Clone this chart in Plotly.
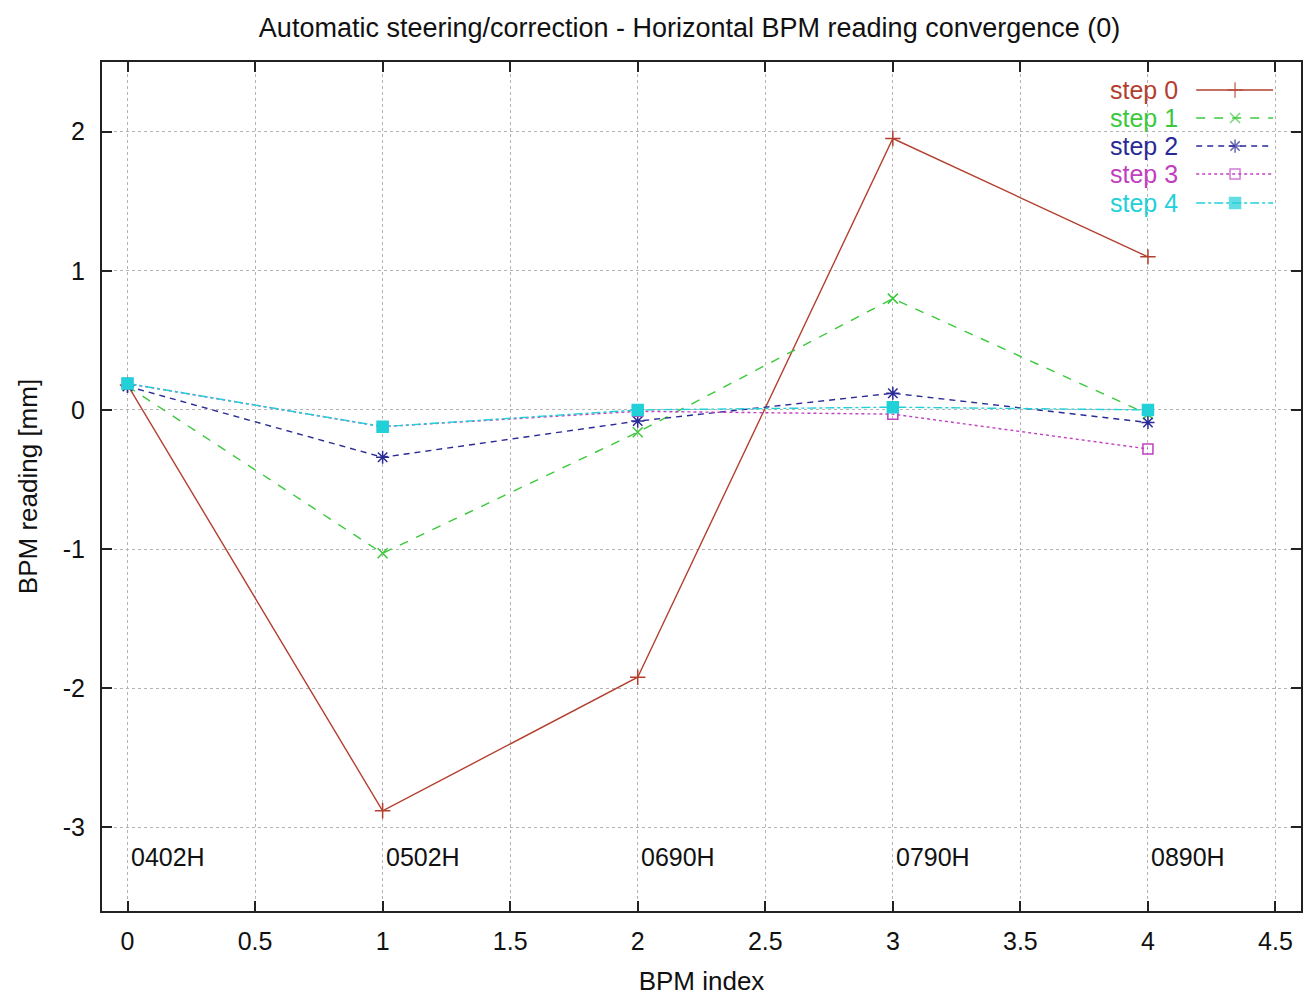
import plotly.graph_objects as go

# ---- data ----
bpm_index = [0, 1, 2, 3, 4]
bpm_names = ["0402H", "0502H", "0690H", "0790H", "0890H"]
step0 = [0.18, -2.88, -1.92, 1.95, 1.10]
step1 = [0.17, -1.03, -0.16, 0.80, -0.03]
step2 = [0.17, -0.34, -0.08, 0.12, -0.09]
step3 = [0.19, -0.12, -0.01, -0.03, -0.28]
step4 = [0.19, -0.12, 0.00, 0.02, 0.00]
series_names = ["step 0", "step 1", "step 2", "step 3", "step 4"]
x_ticks = [0, 0.5, 1, 1.5, 2, 2.5, 3, 3.5, 4, 4.5]
y_ticks = [-3, -2, -1, 0, 1, 2]

series = [step0, step1, step2, step3, step4]
colors = ["#b3402f", "#3cc83c", "#2a2a96", "#c040c0", "#22d0d8"]
dashes = ["solid", "dash", "6px,5px", "dot", "dashdot"]
symbols = ["cross-thin-open", "x-thin-open", "asterisk-open", "square-open", "square"]
msizes = [11, 10, 11, 10, 11]
FONT = "Liberation Sans, Arial, sans-serif"
TXT = "#111111"

fig = go.Figure()
for name, ys, c, d, s, ms in zip(series_names, series, colors, dashes, symbols, msizes):
    fig.add_trace(go.Scatter(
        x=bpm_index, y=ys, mode="lines+markers", name=name,
        line=dict(color=c, width=1.4, dash=d),
        marker=dict(symbol=s, size=ms, color=c, line=dict(color=c, width=1.5)),
        showlegend=False,
    ))

# ---- custom gnuplot-style key (text on left, sample on right) ----
key_rows = [0.967, 0.934, 0.901, 0.868, 0.834]
for name, c, d, s, ms, yr in zip(series_names, colors, dashes, symbols, msizes, key_rows):
    fig.add_trace(go.Scatter(
        x=[0.9126, 0.945, 0.9767], y=[yr, yr, yr], xaxis="x2", yaxis="y2",
        mode="lines+markers", showlegend=False, hoverinfo="skip",
        line=dict(color=c, width=1.4, dash=d),
        marker=dict(symbol=s, size=[0, ms, 0], color=c, line=dict(color=c, width=1.5)),
    ))
    fig.add_annotation(x=0.899, y=yr, xref="x2", yref="y2", text=name, showarrow=False,
                       xanchor="right", yanchor="middle",
                       font=dict(family=FONT, size=25, color=c))

for i, nm in zip(bpm_index, bpm_names):
    fig.add_annotation(x=i, y=-3.21, text=nm, showarrow=False, xanchor="left",
                       yanchor="middle", xshift=1,
                       font=dict(family=FONT, size=25, color=TXT))

axis_common = dict(
    showline=True, linecolor="#222222", linewidth=2, mirror="allticks",
    ticks="inside", ticklen=10, tickwidth=1.5, tickcolor="#222222",
    showgrid=True, gridcolor="#b4b4b4", gridwidth=1, griddash="dot",
    zeroline=False, tickfont=dict(family=FONT, size=25, color=TXT),
)

fig.update_layout(
    width=1306, height=996,
    margin=dict(l=102, r=3, t=62, b=85),
    paper_bgcolor="white", plot_bgcolor="white",
    title=dict(text="Automatic steering/correction - Horizontal BPM reading convergence (0)",
               x=0.528, xanchor="center", xref="container",
               y=1 - 28 / 996, yanchor="middle", yref="container",
               font=dict(family=FONT, size=27, color=TXT)),
    xaxis=dict(range=[-0.1, 4.6], tickvals=x_ticks,
               ticktext=[f"{v:g}" for v in x_ticks], ticklabelstandoff=7,
               title=dict(text="BPM index", standoff=20,
                          font=dict(family=FONT, size=26, color=TXT)),
               **axis_common),
    yaxis=dict(range=[-3.6, 2.5], tickvals=y_ticks,
               ticktext=[f"{v:g}" for v in y_ticks], ticklabelstandoff=10,
               title=dict(text="BPM reading [mm]", standoff=18,
                          font=dict(family=FONT, size=26, color=TXT)),
               **axis_common),
    xaxis2=dict(range=[0, 1], overlaying="x", visible=False, fixedrange=True),
    yaxis2=dict(range=[0, 1], overlaying="y", visible=False, fixedrange=True),
    showlegend=False,
)

fig.write_html("out.html", config={"displayModeBar": False},
               post_script="document.body.style.margin='0';document.body.style.overflow='hidden';")
